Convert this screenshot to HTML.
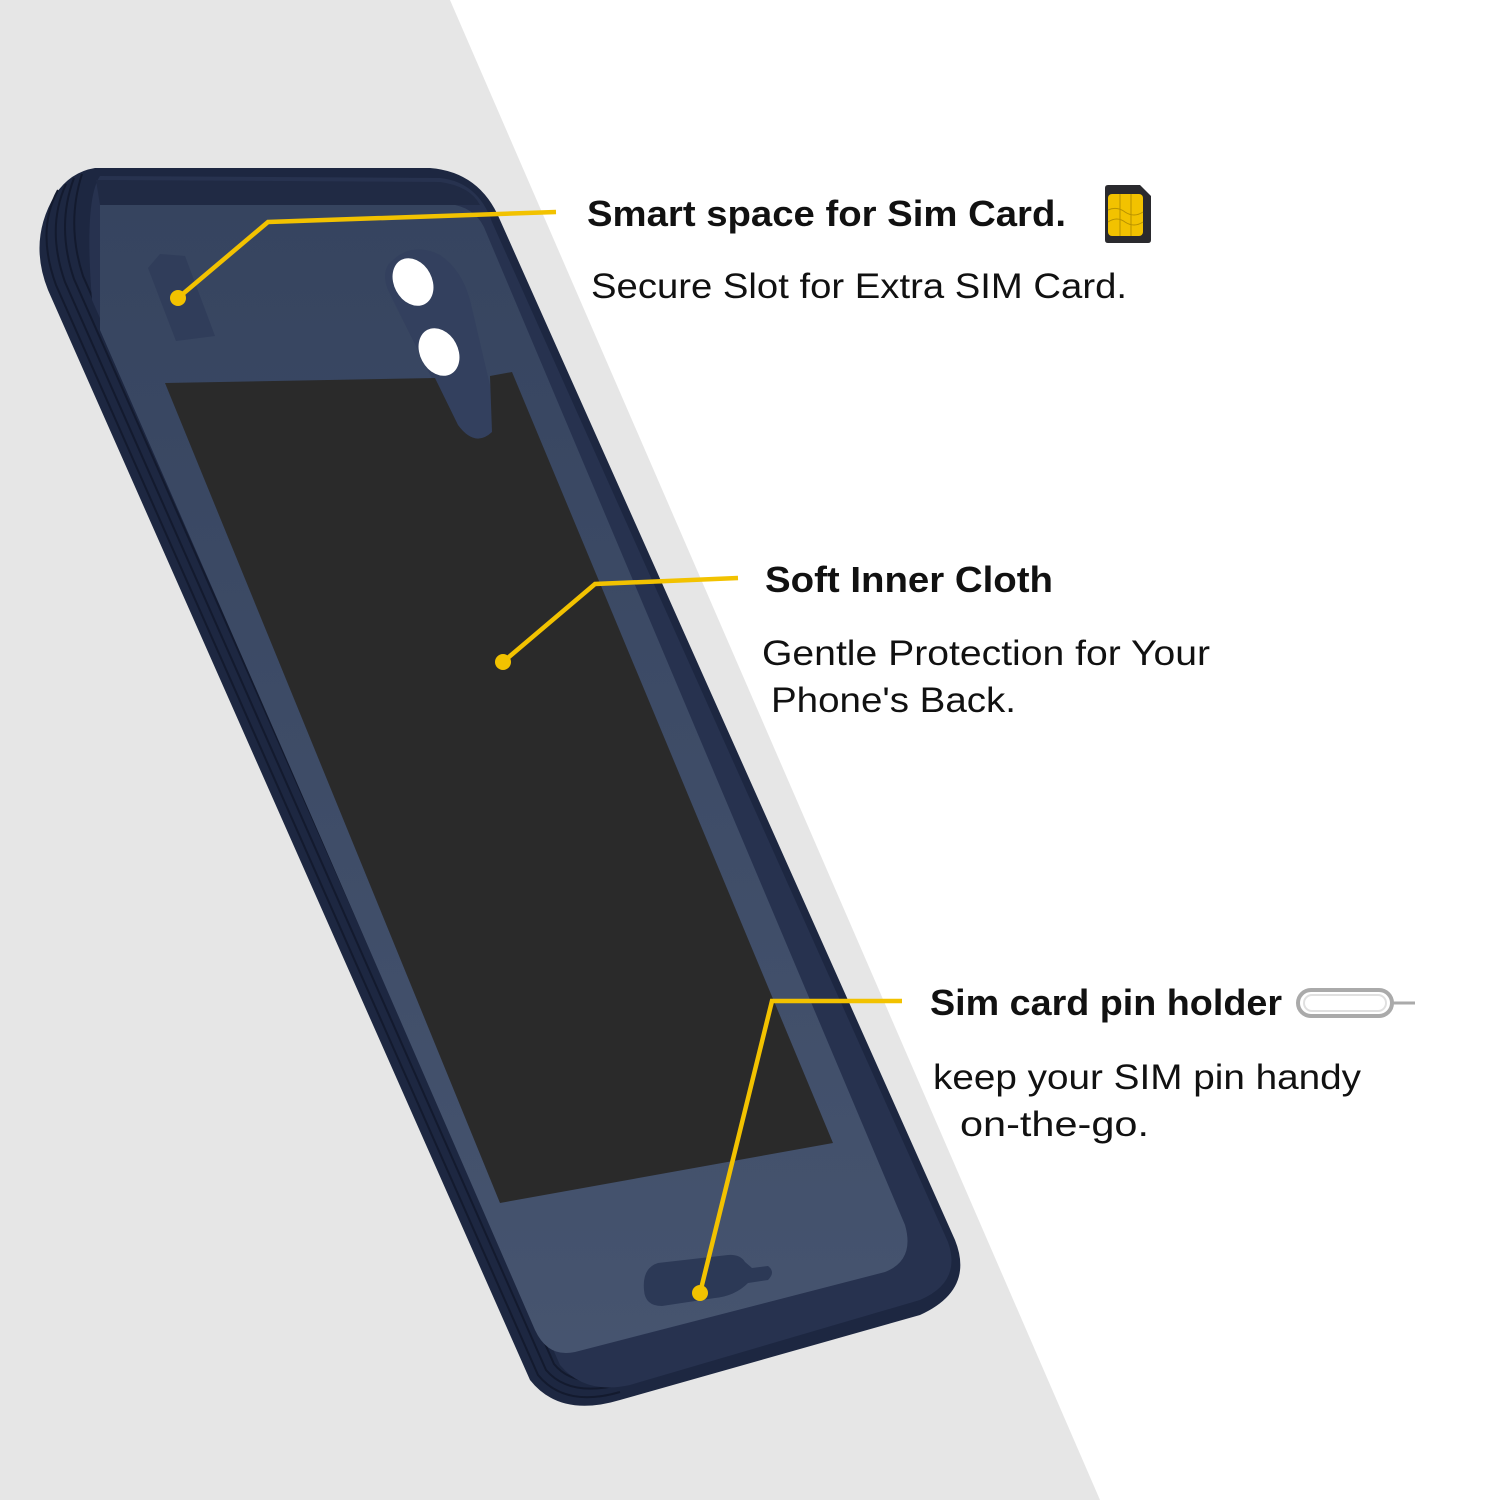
<!DOCTYPE html>
<html><head><meta charset="utf-8"><style>
html,body{margin:0;padding:0;width:1500px;height:1500px;overflow:hidden;background:#fff}
svg{display:block}
text{font-family:"Liberation Sans",sans-serif;fill:#111}
</style></head><body>
<svg width="1500" height="1500" viewBox="0 0 1500 1500" xmlns="http://www.w3.org/2000/svg">
<defs>
<linearGradient id="fl" x1="0" y1="0" x2="0" y2="1">
<stop offset="0" stop-color="#36445f"/><stop offset="1" stop-color="#46546f"/>
</linearGradient>
</defs>
<rect width="1500" height="1500" fill="#e6e6e6"/>
<polygon points="450,0 1500,0 1500,1500 1100,1500" fill="#ffffff"/>

<!-- case outer -->
<path d="M95,168 L430,168 Q480,172 500,220 L955,1240 Q975,1290 920,1315 L620,1400 Q560,1418 530,1380 L48,290 Q28,240 55,195 Q70,172 95,168 Z" fill="#1d2741"/>
<g fill="none" stroke="#131a2e" stroke-width="2">
<path d="M58,190 Q36,230 56,285 L538,1375 Q565,1408 620,1392"/>
<path d="M66,184 Q46,228 65,282 L546,1370 Q570,1398 622,1384"/>
<path d="M74,178 Q56,226 74,279 L554,1364 Q575,1390 624,1376"/>
<path d="M82,174 Q66,224 83,276 L562,1358 Q580,1382 626,1368"/>
</g>
<!-- rim -->
<path d="M100,176 L440,178 Q478,182 492,222 L948,1242 Q962,1282 920,1300 L630,1385 Q585,1395 560,1365 L92,300 Q84,200 100,176 Z" fill="#27324f"/>
<!-- inner floor -->
<path d="M100,200 L455,205 Q478,210 486,232 L905,1225 Q915,1260 885,1272 L575,1352 Q548,1358 535,1330 L100,330 Z" fill="url(#fl)"/>
<path d="M96,180 L440,182 Q470,186 480,205 L100,205 Z" fill="#202a44"/>
<!-- sim slot -->
<polygon points="148,268 160,254 185,256 215,336 176,341" fill="#303d5a"/>
<!-- camera bump -->
<path d="M388,265 Q410,240 440,255 Q462,270 470,300 L497,415 Q500,440 478,442 Q462,440 455,425 L388,290 Q382,275 388,265 Z" fill="#33405e"/>
<!-- cloth -->
<path d="M165,383 L435,378 L458,425 Q475,448 492,432 L490,376 L512,372 L833,1143 L500,1203 Z" fill="#2a2a2a"/>
<!-- camera holes -->
<ellipse cx="413" cy="282" rx="19" ry="25" transform="rotate(-28 413 282)" fill="#fff"/>
<ellipse cx="439" cy="352" rx="19" ry="25" transform="rotate(-28 439 352)" fill="#fff"/>
<!-- pin holder slot -->
<path d="M658,1263 L728,1255 Q740,1254 745,1262 L752,1268 L768,1266 Q776,1272 768,1280 L748,1283 Q735,1296 715,1298 L662,1306 Q645,1306 644,1290 Q642,1268 658,1263 Z" fill="#2c3956"/>

<!-- leader lines -->
<g fill="none" stroke="#f2c200" stroke-width="4.5">
<polyline points="556,212 268,222 178,298"/>
<polyline points="738,578 595,584 503,662"/>
<polyline points="902,1001 772,1001 700,1293"/>
</g>
<g fill="#f2c200">
<circle cx="178" cy="298" r="8"/>
<circle cx="503" cy="662" r="8"/>
<circle cx="700" cy="1293" r="8"/>
</g>

<text x="587" y="226" font-size="36" font-weight="bold" textLength="479" lengthAdjust="spacingAndGlyphs">Smart space for Sim Card.</text>
<text x="591" y="298" font-size="35" textLength="536" lengthAdjust="spacingAndGlyphs">Secure Slot for Extra SIM Card.</text>
<text x="765" y="592" font-size="36" font-weight="bold" textLength="288" lengthAdjust="spacingAndGlyphs">Soft Inner Cloth</text>
<text x="762" y="665" font-size="35" textLength="448" lengthAdjust="spacingAndGlyphs">Gentle Protection for Your</text>
<text x="771" y="712" font-size="35" textLength="245" lengthAdjust="spacingAndGlyphs">Phone's Back.</text>
<text x="930" y="1015" font-size="36" font-weight="bold" textLength="352" lengthAdjust="spacingAndGlyphs">Sim card pin holder</text>
<text x="933" y="1089" font-size="35" textLength="428" lengthAdjust="spacingAndGlyphs">keep your SIM pin handy</text>
<text x="960" y="1136" font-size="35" textLength="189" lengthAdjust="spacingAndGlyphs">on-the-go.</text>

<path d="M1108,185 L1140,185 L1151,196 L1151,240 Q1151,243 1148,243 L1108,243 Q1105,243 1105,240 L1105,188 Q1105,185 1108,185 Z" fill="#2a2a2e"/>
<rect x="1108" y="194" width="35" height="42" rx="4" fill="#f2c200"/>
<g stroke="#b89200" stroke-width="1" fill="none">
<line x1="1120" y1="194" x2="1120" y2="236"/><line x1="1131" y1="194" x2="1131" y2="236"/>
<path d="M1108,210 Q1117,206 1125,212 Q1134,218 1143,212"/>
<path d="M1108,222 Q1117,216 1125,222 Q1134,228 1143,222"/>
</g>

<rect x="1298" y="990" width="94" height="26" rx="13" fill="none" stroke="#aaa" stroke-width="4"/>
<rect x="1304" y="995" width="82" height="16" rx="8" fill="none" stroke="#e0e0e0" stroke-width="2"/>
<line x1="1390" y1="1003" x2="1415" y2="1003" stroke="#aaa" stroke-width="3"/>
</svg>
</body></html>
